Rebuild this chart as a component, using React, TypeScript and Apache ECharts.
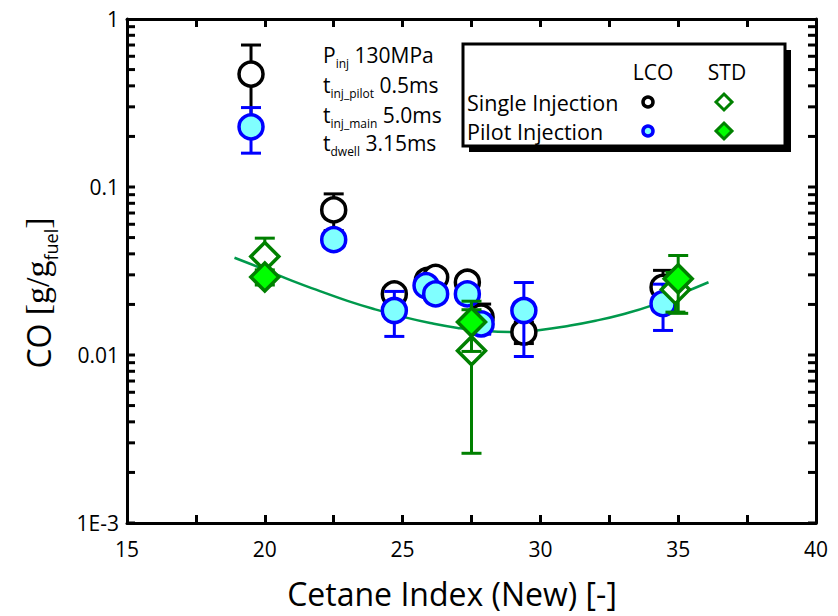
import React, { useEffect, useRef } from "react";
import * as echarts from "echarts";

// Axis ranges and tick labels
const xMin = 15;
const xMax = 40;
const xStep = 5;
const yMin = 0.001;
const yMax = 1;
const yTickLabels = ["1E-3", "0.01", "0.1", "1"];
const yDecades = [0.001, 0.01, 0.1];
const yMantissas = [1, 2, 3, 4, 5, 6, 7, 8, 9];

// LCO fuels, single injection
const lcoSingleX = [19.5, 22.5, 24.7, 25.9, 26.2, 27.35, 27.85, 29.4, 34.45];
const lcoSingleY = [0.47, 0.073, 0.0231, 0.0278, 0.029, 0.0271, 0.0168, 0.0137, 0.0253];
const lcoSingleErr = [0.23, 0.018, 0.002, 0.002, 0.002, 0.002, 0.0033, 0.002, 0.0066];

// LCO fuels, pilot injection
const lcoPilotX = [19.5, 22.5, 24.7, 25.85, 26.2, 27.35, 27.85, 29.4, 34.45];
const lcoPilotY = [0.228, 0.0486, 0.0184, 0.0259, 0.0231, 0.0231, 0.0153, 0.0184, 0.0202];
const lcoPilotErr = [0.069, 0.004, 0.0055, 0.002, 0.002, 0.002, 0.002, 0.0086, 0.0062];

// Standard fuels, single injection
const stdSingleX = [20, 27.5, 34.9];
const stdSingleY = [0.0386, 0.0106, 0.0245];
const stdSingleErr = [0.011, 0.008, 0.0065];

// Standard fuels, pilot injection
const stdPilotX = [20, 27.5, 35.0];
const stdPilotY = [0.0291, 0.0157, 0.0284];
const stdPilotErr = [0.003, 0.0052, 0.0107];

// Trend curve through the standard fuels
const fitX = [18.9, 20, 21, 22, 23, 24, 25, 26, 27, 28, 29, 30, 31, 32, 33, 34, 35, 36.1];
const fitY = [0.0379, 0.0322, 0.0276, 0.024, 0.021, 0.0187, 0.0169, 0.0155, 0.0145, 0.0139, 0.0137, 0.0141, 0.0149, 0.016, 0.0175, 0.0196, 0.0228, 0.0271];

const FONT = "Open Sans";
const SERIF = "Liberation Serif";
const BLACK = "#000000";
const BLUE = "#0000ff";
const CYAN = "#80ffff";
const DARK_GREEN = "#008000";
const BRIGHT_GREEN = "#00ff00";
const FIT_GREEN = "#00994c";
const TICK_LEN = 8;
const TICK_WIDTH = 3;

function errorBars(xs: number[], ys: number[], errs: number[], color: string, z: number) {
  return {
    type: "custom",
    xAxisIndex: 0,
    yAxisIndex: 0,
    z,
    silent: true,
    data: xs.map((x, i) => [x, ys[i] - errs[i], ys[i] + errs[i]]),
    encode: { x: 0, y: [1, 2] },
    renderItem: (_params: any, api: any) => {
      const x = api.value(0);
      const lo = api.coord([x, api.value(1)]);
      const hi = api.coord([x, api.value(2)]);
      const half = 10;
      const style = { stroke: color, lineWidth: 3 };
      return {
        type: "group",
        children: [
          { type: "line", shape: { x1: lo[0], y1: lo[1], x2: hi[0], y2: hi[1] }, style },
          { type: "line", shape: { x1: lo[0] - half, y1: lo[1], x2: lo[0] + half, y2: lo[1] }, style },
          { type: "line", shape: { x1: hi[0] - half, y1: hi[1], x2: hi[0] + half, y2: hi[1] }, style },
        ],
      };
    },
  };
}

function markers(xs: number[], ys: number[], symbol: string, size: number, fill: string, stroke: string, z: number) {
  return {
    type: "scatter",
    xAxisIndex: 0,
    yAxisIndex: 0,
    z,
    silent: true,
    symbol,
    symbolSize: size,
    data: xs.map((x, i) => [x, ys[i]]),
    itemStyle: { color: fill, borderColor: stroke, borderWidth: 3.5, opacity: 1 },
  };
}

const subRich = (mainSize: number, subSize: number, drop: number) => ({
  m: { fontSize: mainSize, fontFamily: FONT, color: BLACK, verticalAlign: "bottom", padding: [0, 0, drop, 0] },
  s: { fontSize: subSize, fontFamily: FONT, color: BLACK, verticalAlign: "bottom" },
});

const noteLines = [
  "{m|P}{s|inj}{m| 130MPa}",
  "{m|t}{s|inj_pilot}{m| 0.5ms}",
  "{m|t}{s|inj_main}{m| 5.0ms}",
  "{m|t}{s|dwell}{m| 3.15ms}",
];
const noteY = [59, 89, 119, 147];

function staticGraphics(): any[] {
  return [
    // y-axis title, rotated
    {
      type: "text",
      x: 40,
      y: 293,
      rotation: Math.PI / 2,
      z: 20,
      style: {
        text: "{c|CO }{g|[g/g}{s|fuel}{g|]}",
        align: "center",
        verticalAlign: "middle",
        rich: {
          c: { fontSize: 32, fontFamily: FONT, color: BLACK, verticalAlign: "bottom", padding: [0, 0, 5, 0] },
          g: { fontSize: 34, fontFamily: SERIF, color: BLACK, verticalAlign: "bottom", padding: [0, 0, 5, 0] },
          s: { fontSize: 18, fontFamily: FONT, color: BLACK, verticalAlign: "bottom" },
        },
      },
    },
    // x-axis title
    {
      type: "text",
      x: 452,
      y: 593,
      z: 20,
      style: {
        text: "Cetane Index (New) [-]",
        fontFamily: FONT,
        fontSize: 32,
        fill: BLACK,
        align: "center",
        verticalAlign: "middle",
      },
    },
    // injection settings note
    ...noteLines.map((t, i) => ({
      type: "text",
      left: 323,
      top: noteY[i] - 15,
      z: 20,
      style: { text: t, rich: subRich(21, 12, 4) },
    })),
    // legend box with drop shadow
    { type: "rect", z: 20, shape: { x: 469, y: 50, width: 322, height: 102 }, style: { fill: BLACK } },
    {
      type: "rect",
      z: 21,
      shape: { x: 463, y: 44, width: 322, height: 102 },
      style: { fill: "#ffffff", stroke: BLACK, lineWidth: 3 },
    },
    {
      type: "text", z: 22, x: 653, y: 72,
      style: { text: "LCO", fontFamily: FONT, fontSize: 21, fill: BLACK, align: "center", verticalAlign: "middle" },
    },
    {
      type: "text", z: 22, x: 727, y: 72,
      style: { text: "STD", fontFamily: FONT, fontSize: 21, fill: BLACK, align: "center", verticalAlign: "middle" },
    },
    {
      type: "text", z: 22, x: 467, y: 102,
      style: { text: "Single Injection", fontFamily: FONT, fontSize: 21.5, fill: BLACK, align: "left", verticalAlign: "middle" },
    },
    {
      type: "text", z: 22, x: 467, y: 131,
      style: { text: "Pilot Injection", fontFamily: FONT, fontSize: 21.5, fill: BLACK, align: "left", verticalAlign: "middle" },
    },
    { type: "circle", z: 22, shape: { cx: 648, cy: 102, r: 5 }, style: { fill: "#ffffff", stroke: BLACK, lineWidth: 3.5 } },
    { type: "circle", z: 22, shape: { cx: 648, cy: 131, r: 5 }, style: { fill: CYAN, stroke: BLUE, lineWidth: 3.5 } },
    {
      type: "polygon", z: 22,
      shape: { points: [[724, 94], [732, 102], [724, 110], [716, 102]] },
      style: { fill: "#ffffff", stroke: DARK_GREEN, lineWidth: 3 },
    },
    {
      type: "polygon", z: 22,
      shape: { points: [[724, 123], [732, 131], [724, 139], [716, 131]] },
      style: { fill: BRIGHT_GREEN, stroke: DARK_GREEN, lineWidth: 3 },
    },
  ];
}

// Inward log-scale ticks on the left and right frame edges, placed through the y scale
function yFrameTicks(chart: echarts.ECharts): any[] {
  const els: any[] = [];
  const style = { stroke: BLACK, lineWidth: TICK_WIDTH };
  const left = chart.convertToPixel({ xAxisIndex: 0 }, xMin) as number;
  const right = chart.convertToPixel({ xAxisIndex: 0 }, xMax) as number;
  yDecades.forEach((d) =>
    yMantissas.forEach((m) => {
      const py = chart.convertToPixel({ yAxisIndex: 0 }, d * m) as number;
      els.push({ type: "line", z: 15, shape: { x1: left, y1: py, x2: left + TICK_LEN, y2: py }, style });
      els.push({ type: "line", z: 15, shape: { x1: right, y1: py, x2: right - TICK_LEN, y2: py }, style });
    })
  );
  return els;
}

export default function App() {
  const ref = useRef<HTMLDivElement>(null);

  useEffect(() => {
    if (!ref.current) return;
    const chart = echarts.init(ref.current, null, { renderer: "svg" });

    const xAxisCommon = {
      type: "value",
      min: xMin,
      max: xMax,
      interval: xStep,
      axisLine: { show: true, onZero: false, lineStyle: { color: BLACK, width: 3 } },
      splitLine: { show: false },
      axisTick: { show: true, inside: true, length: TICK_LEN, lineStyle: { color: BLACK, width: TICK_WIDTH } },
      minorTick: { show: true, splitNumber: 2, length: TICK_LEN, lineStyle: { color: BLACK, width: TICK_WIDTH } },
      minorSplitLine: { show: false },
    };

    const option: any = {
      animation: false,
      backgroundColor: "#ffffff",
      grid: {
        left: 127,
        right: 22,
        top: 19,
        bottom: 93,
        outerBoundsMode: "none",
      },
      xAxis: [
        {
          ...xAxisCommon,
          position: "bottom",
          axisLabel: { margin: 15, fontFamily: FONT, fontSize: 21, color: BLACK },
        },
        {
          ...xAxisCommon,
          position: "top",
          axisLabel: { show: false },
        },
      ],
      yAxis: [
        {
          type: "log",
          logBase: 10,
          min: yMin,
          max: yMax,
          position: "left",
          axisLine: { show: true, onZero: false, lineStyle: { color: BLACK, width: 3 } },
          axisTick: { show: false },
          splitLine: { show: false },
          axisLabel: {
            margin: 8,
            fontFamily: FONT,
            fontSize: 21,
            color: BLACK,
            formatter: (v: number) => yTickLabels[Math.round(Math.log10(v)) + 3] ?? "",
          },
        },
        {
          type: "log",
          logBase: 10,
          min: yMin,
          max: yMax,
          position: "right",
          axisLine: { show: true, onZero: false, lineStyle: { color: BLACK, width: 3 } },
          axisTick: { show: false },
          axisLabel: { show: false },
          splitLine: { show: false },
        },
      ],
      series: [
        {
          type: "line",
          xAxisIndex: 0,
          yAxisIndex: 0,
          z: 2,
          silent: true,
          smooth: true,
          showSymbol: false,
          data: fitX.map((x, i) => [x, fitY[i]]),
          lineStyle: { color: FIT_GREEN, width: 2.5 },
        },
        errorBars(lcoSingleX, lcoSingleY, lcoSingleErr, BLACK, 3),
        markers(lcoSingleX, lcoSingleY, "circle", 24, "#ffffff", BLACK, 4),
        errorBars(lcoPilotX, lcoPilotY, lcoPilotErr, BLUE, 5),
        markers(lcoPilotX, lcoPilotY, "circle", 24, CYAN, BLUE, 6),
        errorBars(stdSingleX, stdSingleY, stdSingleErr, DARK_GREEN, 7),
        markers(stdSingleX, stdSingleY, "diamond", 28, "#ffffff", DARK_GREEN, 8),
        errorBars(stdPilotX, stdPilotY, stdPilotErr, DARK_GREEN, 9),
        markers(stdPilotX, stdPilotY, "diamond", 28, BRIGHT_GREEN, DARK_GREEN, 10),
      ],
    };

    chart.setOption(option);
    chart.setOption({ graphic: [...staticGraphics(), ...yFrameTicks(chart)] });
    return () => chart.dispose();
  }, []);

  return (
    <div
      ref={ref}
      style={{ position: "fixed", left: 0, top: 0, width: 838, height: 616, background: "#ffffff" }}
    />
  );
}
